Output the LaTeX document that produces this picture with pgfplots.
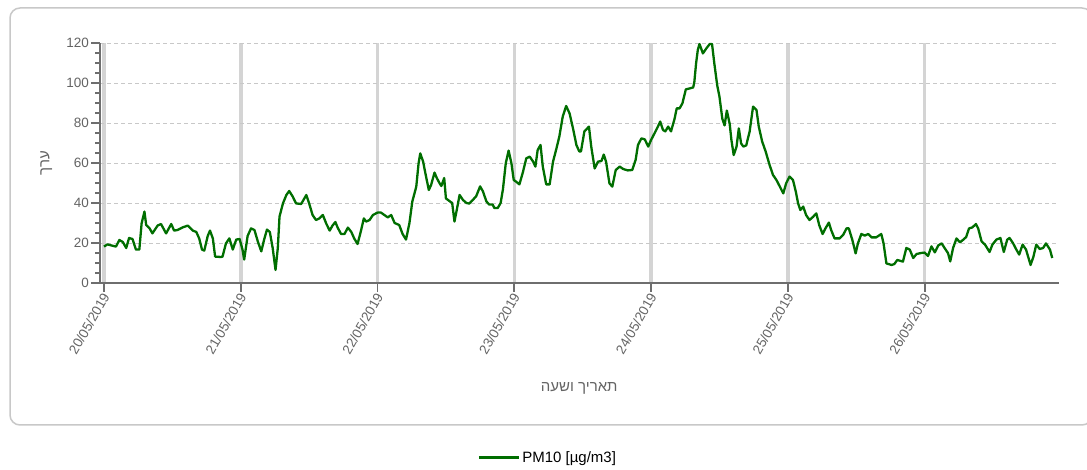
\documentclass[border=0pt]{standalone}
\usepackage{fontspec}
\setmainfont{Liberation Sans}
\newfontfamily\hebfont[Script=Hebrew]{Liberation Sans}
\TeXXeTstate=1
\usepackage{pgfplots}
\pgfplotsset{compat=1.18}
\usepackage{pgfplotstable}

\definecolor{pmgreen}{RGB}{0,110,0}
\definecolor{axisgray}{RGB}{110,110,110}
\definecolor{labelgray}{RGB}{100,100,100}
\definecolor{vgrid}{RGB}{212,212,212}
\definecolor{hgrid}{RGB}{200,200,200}
\definecolor{framegray}{RGB}{200,200,200}

% hourly PM10, x = hours since 20/05/2019 00:00
\pgfplotstableread{
h v
0 18.2
0.6 19.3
2.1 18.2
2.7 21.5
3.3 20.5
3.9 17.5
4.4 22.5
5.0 22
5.6 16.7
6.2 16.7
6.6 29.8
7.1 35.7
7.4 29
8.0 27.3
8.5 24.8
9.4 28.7
10.0 29.5
10.9 24.8
11.8 29.5
12.3 26.2
12.9 26.5
13.8 27.8
14.7 28.7
15.6 26.2
16.2 25.5
16.7 22.3
17.2 16.7
17.6 16.2
18.2 23.5
18.6 26.2
19.1 22.3
19.5 13.2
20.5 13
20.8 13.2
21.4 19.8
22.0 22.3
22.6 16.7
23.2 21.7
23.8 22
24.3 16.7
24.6 11.7
25.2 23.5
25.8 27.3
26.4 26.5
27.0 20.7
27.6 15.8
28.1 21.7
28.6 26.7
29.1 25.5
29.6 17.5
30.1 6.5
30.5 17.5
30.8 33.2
31.4 39.8
32.0 44
32.5 46
33.1 43.3
33.7 39.8
34.6 39.5
35.0 41.5
35.5 44
36.0 39.8
36.6 34
37.2 31.5
37.8 32.3
38.4 34
39.0 29.7
39.6 26.2
40.1 28.7
40.6 30.5
41.0 27.7
41.6 24.5
42.2 24.5
42.8 27.7
43.4 25.5
43.9 22.3
44.5 19.5
45.1 26.2
45.6 32.3
46.0 30.7
46.6 31.5
47.2 34
48.0 35.2
48.6 35.2
49.2 34
49.8 32.8
50.4 34
51.0 30
51.8 29
52.4 24.5
53.0 21.7
53.6 30
54.1 40.7
54.8 48.2
55.2 59.8
55.5 64.8
56.0 60.7
56.4 54.8
57.0 46.5
57.4 49
58.0 55.2
58.4 52.5
58.9 49.8
59.2 48.5
59.7 52.5
60.0 42.3
60.6 41
61.1 40
61.5 30.7
61.9 36.5
62.4 44
63.0 41.5
63.6 40
64.1 39.7
64.7 41.5
65.3 43.3
66.0 48.3
66.5 45.8
67.1 40.8
67.6 39.2
68.2 39.2
68.5 37.5
69.1 37.5
69.6 40
70.0 46.7
70.5 59.8
71.0 66.2
71.5 59.8
71.9 51.5
72.3 50.7
72.9 49.3
73.5 55.3
74.1 62.3
74.7 63.2
75.3 60.7
75.7 58.2
76.1 66.5
76.6 69
77.0 58.2
77.6 49.3
78.2 49.3
78.8 60.7
79.4 67.3
79.9 73.2
80.5 83.2
81.1 88.5
81.7 84.8
82.3 77.3
82.9 69
83.4 65.8
83.7 65.8
84.3 75.8
85.1 78.2
85.5 68.2
86.1 57.3
86.7 60.7
87.3 61
87.7 64.2
88.1 60.7
88.7 49.8
89.2 48.2
89.8 56.5
90.5 58.2
91.1 57
91.9 56.3
92.7 56.5
93.3 61.7
93.7 69
94.3 72.3
94.9 71.8
95.5 68.2
96.0 71.5
96.6 74.8
97.2 78.2
97.6 80.7
98.1 76.5
98.5 75.8
99.0 78.2
99.5 75.8
100.1 81.8
100.5 87.3
101.0 87.3
101.5 89.8
102.1 96.8
102.8 97.3
103.4 97.8
103.6 100.7
103.9 109.8
104.2 116.5
104.5 119.5
105.1 114.8
105.7 117.3
106.3 119.5
106.7 119.5
107.1 109.8
107.6 99
108.0 93.2
108.5 82.2
108.9 78.8
109.3 86.2
109.8 79.5
110.1 71.5
110.5 64
111.0 68.2
111.4 77.3
111.8 69.8
112.2 68.2
112.7 68.8
113.3 75.8
113.9 88.2
114.5 86.5
114.9 78.2
115.5 70.7
116.1 65.8
116.8 59
117.4 54
118.0 51.5
118.6 48.2
119.2 44.8
119.7 49.8
120.3 53.2
120.9 51.5
121.4 45.7
121.8 39.8
122.2 36.5
122.7 38.2
123.2 34
123.8 31.5
124.4 33
125.0 34.8
125.5 29
126.1 24.5
126.6 27.3
127.2 30.2
127.6 26.5
128.2 22.3
129.1 22.3
129.7 24
130.3 27.3
130.7 27.3
131.3 21.7
131.9 14.8
132.3 19.8
132.9 24.5
133.5 23.7
134.1 24.5
134.7 22.8
135.5 22.8
136.4 24.5
136.8 19.8
137.3 9.8
138.2 9
138.7 9.5
139.2 11.5
139.6 11.2
140.2 10.7
140.8 17.5
141.4 16.7
142.0 12.5
142.6 14.5
143.4 15
144.0 15.2
144.6 13.5
145.2 18.3
145.8 15.3
146.4 18.8
147.0 19.8
147.5 17.5
148.1 15
148.5 10.8
149.0 17.5
149.6 22.3
150.2 20.3
150.8 21.7
151.3 23
151.8 27.3
152.4 27.8
153.0 29.5
153.4 27.3
154.0 20.8
154.6 19.2
155.4 15.5
155.9 19.2
156.6 21.7
157.3 22.5
157.9 15.5
158.5 21.7
158.9 22.5
159.5 20
160.1 16.7
160.6 14.2
161.2 19.2
161.8 16.7
162.6 9
163.1 13.2
163.6 19.2
164.2 17
164.8 17.5
165.3 19.8
166.0 16.7
166.4 12.5
}\pmten

\begin{document}
\begin{tikzpicture}[x=1pt,y=1pt]
\useasboundingbox (0,0) rectangle (1087,470);
% panel frame
\draw[framegray, line width=1.5pt, rounded corners=10pt] (10,45) rectangle (1092,462);
\begin{axis}[
  at={(104pt,187pt)}, anchor=origin,
  scale only axis,
  width=958.5pt, height=240pt,
  xmin=-0.7, xmax=167.5,
  ymin=0, ymax=120,
  axis x line*=bottom, axis y line*=left,
  axis line style={axisgray, line width=2pt, -},
  xtick={0,24,48,72,96,120,144},
  xticklabels={20/05/2019,21/05/2019,22/05/2019,23/05/2019,24/05/2019,25/05/2019,26/05/2019},
  ytick={0,20,...,120},
  minor y tick num=3,
  tick align=outside,
  major tick length=9pt, minor tick length=5pt,
  tick style={axisgray, line width=1.8pt},
  xmajorgrids, ymajorgrids,
  major x grid style={vgrid, line width=3.5pt},
  major y grid style={hgrid, line width=0.8pt, dash pattern=on 4pt off 3pt},
  /pgf/number format/assume math mode=true,
  tick label style={font=\fontsize{13.5}{15}\selectfont, text=labelgray},
  xticklabel style={rotate=60, anchor=east, inner sep=1pt, yshift=-3pt},
  yticklabel style={inner sep=2pt},
  xlabel={\hebfont\beginR תאריך ושעה\endR},
  ylabel={\hebfont\beginR ערך\endR},
  label style={font=\fontsize{15}{17}\selectfont, text=labelgray},
  xlabel style={at={(axis description cs:0.5,-0.4375)}, anchor=center},
  ylabel style={at={(axis description cs:-0.056,0.5)}, anchor=center, rotate=0},
  legend style={at={(axis description cs:0.467,-0.729)}, anchor=center,
    draw=none, fill=none, font=\fontsize{15}{17}\selectfont,
    legend cell align=left},
  legend image code/.code={\draw[#1, line width=3pt] (0pt,0pt) -- (40pt,0pt);},
  clip=false,
]
\addplot[pmgreen, line width=2.3pt, line join=round] table[x=h, y=v] {\pmten};
\addlegendentry{PM10 [µg/m3]}
\end{axis}
\end{tikzpicture}
\end{document}
